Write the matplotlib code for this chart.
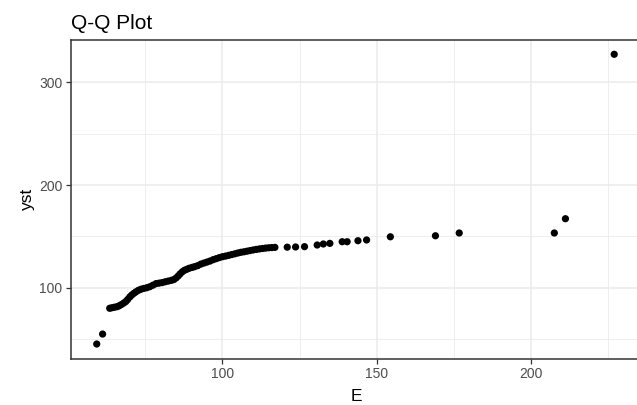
import matplotlib
matplotlib.use("Agg")
import matplotlib.pyplot as plt

plt.rcParams['font.family'] = ['Liberation Sans', 'DejaVu Sans']

# Theoretical quantiles (E) and sample quantiles (yst)
E = [59.3, 61.2,
     63.5, 64.2, 65.0, 65.8, 66.5, 67.2, 68.0, 68.7, 69.3, 70.0, 70.6, 71.3,
     72.0, 72.8, 73.6, 74.5, 75.5, 76.5, 77.5, 78.5, 79.5, 80.5, 81.5, 82.5,
     83.5, 84.3, 85.0, 85.7, 86.3, 87.0, 87.7, 88.5, 89.3, 90.2, 91.0, 92.0,
     93.0, 94.0, 95.0, 96.0, 97.0, 98.0, 99.0, 100.0, 101.0, 102.0, 103.0,
     104.0, 105.0, 106.0, 107.0, 108.0, 109.0, 110.0, 111.0, 112.0, 113.0,
     114.0, 115.0, 116.0, 117.0,
     121.0, 123.7, 126.6, 130.7, 132.7, 134.8, 138.8, 140.4, 143.9, 146.7,
     154.4, 169.0, 176.7, 207.5, 211.1, 226.9]
yst = [45.2, 54.9,
       80.0, 80.5, 81.0, 81.5, 82.3, 83.5, 85.0, 86.5, 88.5, 91.0, 92.8, 94.5,
       96.0, 97.5, 98.5, 99.3, 100.0, 101.0, 102.5, 104.0, 104.5, 105.0, 105.8,
       106.5, 107.2, 108.0, 109.5, 111.5, 113.5, 115.5, 117.0, 118.0, 119.0,
       119.8, 120.5, 121.5, 123.0, 124.0, 125.0, 126.0, 127.3, 128.3, 129.3,
       130.2, 130.8, 131.5, 132.3, 133.0, 133.8, 134.5, 135.0, 135.6, 136.2,
       136.8, 137.3, 137.8, 138.2, 138.6, 138.9, 139.1, 139.3,
       139.5, 139.7, 140.0, 141.6, 142.6, 143.2, 144.8, 144.8, 145.8, 146.5,
       149.6, 150.6, 153.3, 153.3, 167.2, 327.3]

xticks = [100, 150, 200]
yticks = [100, 200, 300]
xminor = [75, 125, 175, 225]
yminor = [50, 150, 250]

fig = plt.figure(figsize=(6.37, 4.05), dpi=100)
# panel extends slightly past the right edge, as in the cropped reference
ax = fig.add_axes([70.8 / 637, (405 - 358.5) / 405, (642 - 70.8) / 637, (358.5 - 39.8) / 405])

ax.scatter(E, yst, s=27, color='black', edgecolors='none', zorder=3)

ax.set_xticks(xticks)
ax.set_yticks(yticks)
ax.set_xticks(xminor, minor=True)
ax.set_yticks(yminor, minor=True)
ax.set_xlim(50.9, 235.9)
ax.set_ylim(31.1, 341.4)

ax.grid(which='major', color='#EBEBEB', linewidth=1.1)
ax.grid(which='minor', color='#EBEBEB', linewidth=0.6)
ax.set_axisbelow(True)

for s in ax.spines.values():
    s.set_color('#333333')
    s.set_linewidth(1.1)

ax.tick_params(which='major', length=3.5, width=0.9, color='#333333',
               labelsize=10, labelcolor='#4D4D4D', pad=2.5)
ax.tick_params(which='minor', length=0)

ax.set_xlabel('E', fontsize=12.5, color='black', labelpad=6)
ax.set_ylabel('yst', fontsize=12.5, color='black', labelpad=3)
ax.set_title('Q-Q Plot', fontsize=15, loc='left', pad=8, color='black')

fig.savefig('out.png', dpi=100)
